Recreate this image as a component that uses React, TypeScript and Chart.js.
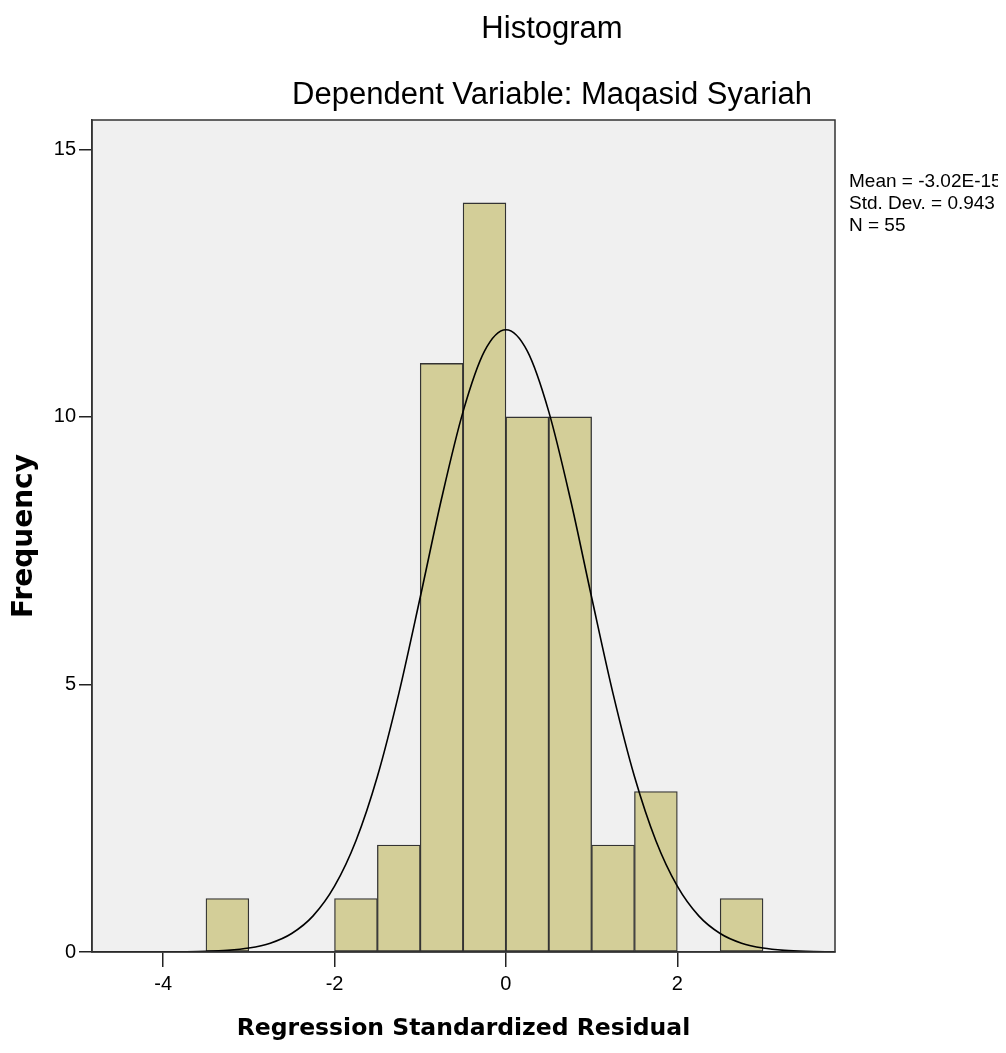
import { useEffect, useRef } from "react";
import { Chart, registerables } from "chart.js";

Chart.register(...registerables);

// Histogram bins (width 0.5): centres and frequencies
const binCenters = [-3.25, -1.75, -1.25, -0.75, -0.25, 0.25, 0.75, 1.25, 1.75, 2.75];
const binCounts = [1, 1, 2, 11, 14, 10, 10, 2, 3, 1];

// Fitted normal curve
const curveX = [-4.83, -4.5, -4.25, -4, -3.75, -3.5, -3.25, -3, -2.75, -2.5, -2.25, -2, -1.75, -1.5, -1.25, -1, -0.75, -0.5, -0.25, 0, 0.25, 0.5, 0.75, 1, 1.25, 1.5, 1.75, 2, 2.25, 2.5, 2.75, 3, 3.25, 3.5, 3.84];
const curveY = [0, 0.0001, 0.0005, 0.0014, 0.0043, 0.012, 0.031, 0.074, 0.165, 0.346, 0.675, 1.23, 2.08, 3.28, 4.83, 6.63, 8.48, 10.1, 11.23, 11.63, 11.23, 10.1, 8.48, 6.63, 4.83, 3.28, 2.08, 1.23, 0.675, 0.346, 0.165, 0.074, 0.031, 0.012, 0.003];

const xTicks = [-4, -2, 0, 2];
const yTicks = [0, 5, 10, 15];

const titleText = "Histogram";
const subtitleText = "Dependent Variable: Maqasid Syariah";
const xTitle = "Regression Standardized Residual";
const yTitle = "Frequency";
const statLines = ["Mean = -3.02E-15", "Std. Dev. = 0.943", "N = 55"];

const SANS = "'Liberation Sans', Arial, sans-serif";
const BOLD = "'DejaVu Sans', Verdana, sans-serif";

const decorPlugin = {
  id: "decor",
  beforeDraw(chart: any) {
    const { ctx, chartArea: a } = chart;
    ctx.save();
    ctx.fillStyle = "#f0f0f0";
    ctx.fillRect(a.left, a.top, a.right - a.left, a.bottom - a.top);
    ctx.restore();
  },
  afterDraw(chart: any) {
    const { ctx, chartArea: a } = chart;
    ctx.save();
    ctx.strokeStyle = "#333";
    ctx.lineWidth = 1.5;
    ctx.strokeRect(a.left, a.top, a.right - a.left, a.bottom - a.top);

    ctx.fillStyle = "#000";
    ctx.textAlign = "center";
    ctx.textBaseline = "alphabetic";
    ctx.font = `31px ${SANS}`;
    ctx.fillText(titleText, 544, 30);
    ctx.fillText(subtitleText, 544, 96);

    ctx.textAlign = "left";
    ctx.font = `19px ${SANS}`;
    statLines.forEach((t, i) => {
      ctx.fillText(t, 841, 179 + i * 22);
    });
    ctx.restore();
  },
};

export default function App() {
  const ref = useRef<HTMLCanvasElement | null>(null);

  useEffect(() => {
    if (!ref.current) return;
    const chart = new Chart(ref.current, {
      type: "bar",
      data: {
        datasets: [
          {
            type: "line",
            data: curveX.map((x, i) => ({ x, y: curveY[i] })),
            borderColor: "#000",
            borderWidth: 1.6,
            pointRadius: 0,
            fill: false,
            cubicInterpolationMode: "monotone",
            order: 0,
          } as any,
          {
            type: "bar",
            data: binCenters.map((x, i) => ({ x, y: binCounts[i] })),
            backgroundColor: "#d3ce98",
            borderColor: "#333",
            borderWidth: 1.3,
            borderSkipped: false,
            barPercentage: 1,
            categoryPercentage: 1,
            order: 1,
          } as any,
        ],
      },
      options: {
        animation: false,
        responsive: false,
        maintainAspectRatio: false,
        devicePixelRatio: 1,
        layout: { padding: { top: 112, right: 171, left: 0, bottom: 0 } },
        plugins: {
          legend: { display: false },
          tooltip: { enabled: false },
          title: { display: false },
        },
        scales: {
          x: {
            type: "linear",
            min: -4.83,
            max: 3.84,
            offset: false,
            afterFit: (s: any) => {
              s.height = 93;
            },
            afterBuildTicks: (s: any) => {
              s.ticks = xTicks.map((v) => ({ value: v }));
            },
            grid: {
              drawOnChartArea: false,
              drawTicks: true,
              tickLength: 15,
              color: "#222",
              lineWidth: 1.5,
              offset: false,
            },
            border: { display: true, color: "#333", width: 1.5 },
            ticks: {
              color: "#000",
              font: { family: SANS, size: 20 },
              padding: 5,
              maxRotation: 0,
              autoSkip: false,
            },
            title: {
              display: true,
              text: xTitle,
              color: "#000",
              font: { family: BOLD, size: 23.5, weight: "bold" },
              padding: { top: 0, bottom: 2 },
            },
          },
          y: {
            type: "linear",
            min: 0,
            max: 15.55,
            afterFit: (s: any) => {
              s.width = 84;
            },
            afterBuildTicks: (s: any) => {
              s.ticks = yTicks.map((v) => ({ value: v }));
            },
            grid: {
              drawOnChartArea: false,
              drawTicks: true,
              tickLength: 13,
              color: "#222",
              lineWidth: 1.5,
            },
            border: { display: true, color: "#333", width: 1.5 },
            ticks: {
              color: "#000",
              font: { family: SANS, size: 20 },
              padding: 3,
              autoSkip: false,
            },
            title: {
              display: true,
              text: yTitle,
              color: "#000",
              font: { family: BOLD, size: 28, weight: "bold" },
              padding: { top: 0, bottom: 0 },
            },
          },
        },
      },
      plugins: [decorPlugin],
    });
    return () => chart.destroy();
  }, []);

  return (
    <div style={{ position: "relative", width: 998, height: 1037 }}>
      <canvas ref={ref} width={998} height={1037} style={{ display: "block", width: 998, height: 1037 }} />
    </div>
  );
}
